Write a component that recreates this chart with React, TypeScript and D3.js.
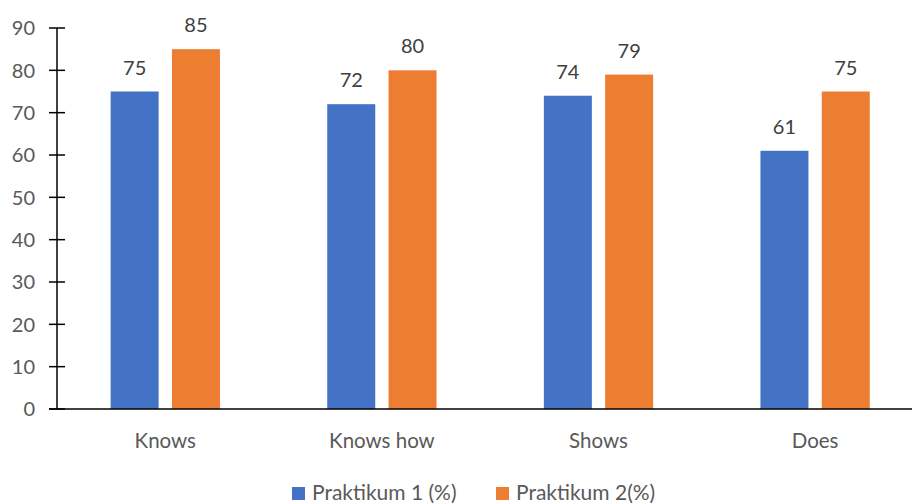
import React from "react";
import * as d3 from "d3";

const categories = ["Knows", "Knows how", "Shows", "Does"];
const praktikum1 = [75, 72, 74, 61];
const praktikum2 = [85, 80, 79, 75];
const seriesNames = ["Praktikum 1 (%)", "Praktikum 2(%)"];
const yTicks = [0, 10, 20, 30, 40, 50, 60, 70, 80, 90];

const W = 912;
const H = 504;
const colors = ["#4472C4", "#ED7D31"];
const textColor = "#595959";
const font = "Lato, 'Open Sans', sans-serif";

export default function App() {
  const axisX = 57;
  const x = d3.scaleBand<string>().domain(categories).range([axisX, axisX + 4 * 216.6]);
  const y = d3.scaleLinear().domain([0, 90]).range([409, 28]);
  const barW = 48;
  const gap = 13.3;
  const series = [praktikum1, praktikum2];

  return (
    <svg width={W} height={H} style={{ position: "absolute", left: 0, top: 0, background: "#fff" }}>
      {/* bars + value labels */}
      {categories.map((c, i) => {
        const center = (x(c) as number) + x.bandwidth() / 2;
        return series.map((s, k) => {
          const bx = k === 0 ? center - gap / 2 - barW : center + gap / 2;
          return (
            <g key={c + k}>
              <rect x={bx} y={y(s[i])} width={barW} height={y(0) - y(s[i])} fill={colors[k]} />
              <text
                x={bx + barW / 2}
                y={y(s[i]) - 17}
                textAnchor="middle"
                fontFamily={font}
                fontSize={20}
                fill="#404040"
              >
                {s[i]}
              </text>
            </g>
          );
        });
      })}

      {/* y axis */}
      <line x1={axisX} x2={axisX} y1={y(90)} y2={y(0)} stroke="#000" strokeWidth={1.5} />
      {yTicks.map((t) => (
        <g key={t}>
          <line x1={axisX - 8} x2={axisX + 8} y1={y(t)} y2={y(t)} stroke="#000" strokeWidth={1.5} />
          <text
            x={axisX - 22}
            y={y(t)}
            dy="0.36em"
            textAnchor="end"
            fontFamily={font}
            fontSize={20}
            fill={textColor}
          >
            {t}
          </text>
        </g>
      ))}

      {/* x axis */}
      <line x1={axisX - 8} x2={W} y1={y(0)} y2={y(0)} stroke="#000" strokeWidth={1.5} />
      {categories.map((c) => (
        <text
          key={c}
          x={(x(c) as number) + x.bandwidth() / 2}
          y={448}
          textAnchor="middle"
          fontFamily={font}
          fontSize={20.5}
          fill={textColor}
        >
          {c}
        </text>
      ))}

      {/* legend */}
      {seriesNames.map((n, k) => {
        const lx = k === 0 ? 292 : 496;
        return (
          <g key={n}>
            <rect x={lx} y={487} width={13} height={13} fill={colors[k]} />
            <text x={lx + 20} y={499.5} fontFamily={font} fontSize={21} fill={textColor}>
              {n}
            </text>
          </g>
        );
      })}
    </svg>
  );
}
